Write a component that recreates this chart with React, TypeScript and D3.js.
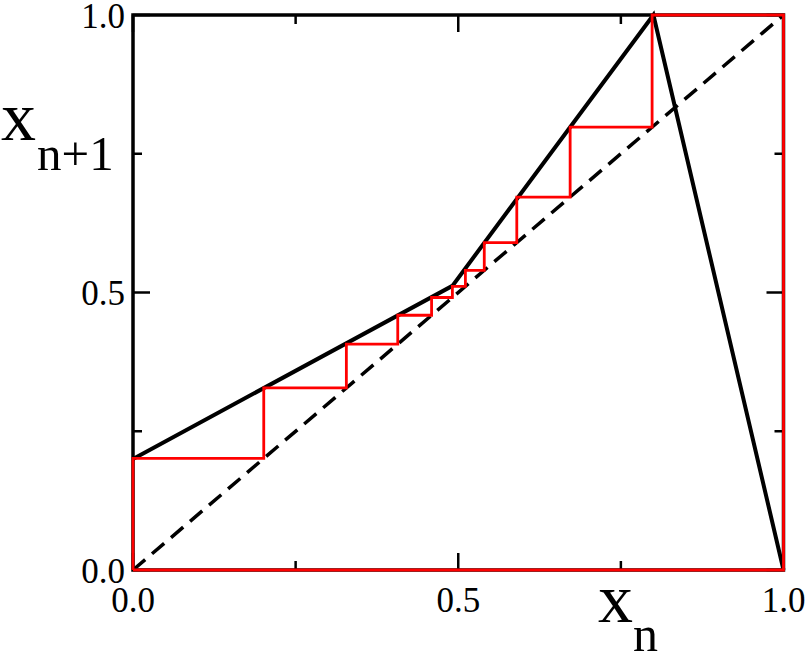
import React from "react";
import { scaleLinear, line } from "d3";

// piecewise-linear map x_{n+1} = f(x_n), vertices
const mapX = [0, 0.491, 0.8, 1];
const mapY = [0.2, 0.512, 1, 0];

// cobweb orbit (closes back at 0)
const orbit = [0, 0.201, 0.328, 0.407, 0.459, 0.491, 0.511, 0.54, 0.59, 0.672, 0.798, 1, 0];

const majorTicks = [0, 0.5, 1];
const minorTicks = [0.25, 0.75];
const tickLabels = ["0.0", "0.5", "1.0"];

const W = 810;
const H = 653;
const FONT = "'Liberation Serif', 'Times New Roman', serif";

export default function App() {
  const x = scaleLinear().domain([0, 1]).range([133, 783.5]);
  const y = scaleLinear().domain([0, 1]).range([570, 15]);

  const path = line<[number, number]>()
    .x((d) => x(d[0]))
    .y((d) => y(d[1]));

  const mapPts: [number, number][] = mapX.map((v, i) => [v, mapY[i]]);

  // build cobweb: vertical to the map, horizontal to the diagonal
  const web: [number, number][] = [[orbit[0], orbit[0]]];
  for (let i = 0; i < orbit.length - 1; i++) {
    web.push([orbit[i], orbit[i + 1]]);
    web.push([orbit[i + 1], orbit[i + 1]]);
  }

  const ticks = [
    ...majorTicks.map((t) => ({ t, len: 17 })),
    ...minorTicks.map((t) => ({ t, len: 9 })),
  ];

  return (
    <svg
      width={W}
      height={H}
      style={{ position: "absolute", left: 0, top: 0, background: "#fff" }}
    >
      {/* frame */}
      <rect
        x={x(0)}
        y={y(1)}
        width={x(1) - x(0)}
        height={y(0) - y(1)}
        fill="none"
        stroke="#000"
        strokeWidth={3.5}
      />

      {/* inward ticks on all four sides */}
      {ticks.map(({ t, len }) => (
        <g key={"t" + t} stroke="#000" strokeWidth={2.5}>
          <line x1={x(t)} x2={x(t)} y1={y(0)} y2={y(0) - len} />
          <line x1={x(t)} x2={x(t)} y1={y(1)} y2={y(1) + len} />
          <line x1={x(0)} x2={x(0) + len} y1={y(t)} y2={y(t)} />
          <line x1={x(1)} x2={x(1) - len} y1={y(t)} y2={y(t)} />
        </g>
      ))}

      {/* diagonal */}
      <path
        d={path([[0, 0], [1, 1]]) || ""}
        fill="none"
        stroke="#000"
        strokeWidth={3.5}
        strokeDasharray="16,9"
      />

      {/* map */}
      <path
        d={path(mapPts) || ""}
        fill="none"
        stroke="#000"
        strokeWidth={4}
        strokeLinejoin="miter"
      />

      {/* cobweb */}
      <path
        d={path(web) || ""}
        fill="none"
        stroke="#ff0000"
        strokeWidth={2.8}
      />

      {/* tick labels */}
      <g fontFamily={FONT} fontSize={35} fill="#000">
        {majorTicks.map((t, i) => (
          <text key={"xl" + t} x={x(t)} y={612} textAnchor="middle">
            {tickLabels[i]}
          </text>
        ))}
        {majorTicks.map((t, i) => (
          <text key={"yl" + t} x={125} y={y(t) + 12.5} textAnchor="end">
            {tickLabels[i]}
          </text>
        ))}
      </g>

      {/* axis titles */}
      <g fontFamily={FONT} fill="#000">
        <text x={1} y={140} fontSize={70}>x</text>
        <text x={37} y={170} fontSize={49}>n+1</text>
        <text x={598} y={622} fontSize={70}>x</text>
        <text x={633} y={651} fontSize={50}>n</text>
      </g>
    </svg>
  );
}
